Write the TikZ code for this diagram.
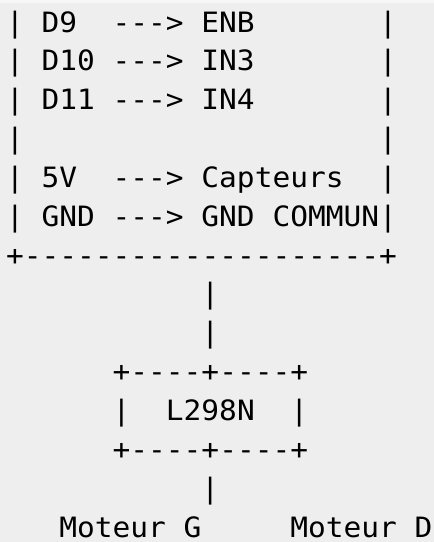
\documentclass[tikz,border=0pt]{standalone}
\usepackage{fontspec}
\setmonofont{DejaVu Sans Mono}[FakeStretch=1.054]
\definecolor{bgc}{HTML}{EEEEEE}
\definecolor{topc}{HTML}{F6F6F6}
\begin{document}
\begin{tikzpicture}[x=17.76pt,y=-38.85pt,
  txt/.style={anchor=base west,inner sep=0pt,outer sep=0pt,font=\ttfamily\fontsize{28}{28}\selectfont,text=black},
  lastrow/.style={txt,text depth=0pt}]
\fill[bgc] (-6.1pt,32pt) rectangle ++(434pt,-542pt);
\fill[topc] (-6.1pt,32pt) rectangle ++(434pt,-3pt);
\useasboundingbox (-6.1pt,32pt) rectangle ++(434pt,-542pt);
% row 0
\node[txt] (l0) at (0,0) {|};
\node[txt] (d9) at (2,0) {D9};
\node[txt] (a0) at (6,0) {--->};
\node[txt] (enb) at (11,0) {ENB};
\node[txt] (r0) at (21,0) {|};
% row 1
\node[txt] (l1) at (0,1) {|};
\node[txt] (d10) at (2,1) {D10};
\node[txt] (a1) at (6,1) {--->};
\node[txt] (in3) at (11,1) {IN3};
\node[txt] (r1) at (21,1) {|};
% row 2
\node[txt] (l2) at (0,2) {|};
\node[txt] (d11) at (2,2) {D11};
\node[txt] (a2) at (6,2) {--->};
\node[txt] (in4) at (11,2) {IN4};
\node[txt] (r2) at (21,2) {|};
% row 3
\node[txt] (l3) at (0,3) {|};
\node[txt] (r3) at (21,3) {|};
% row 4
\node[txt] (l4) at (0,4) {|};
\node[txt] (v5) at (2,4) {5V};
\node[txt] (a4) at (6,4) {--->};
\node[txt] (capt) at (11,4) {Capteurs};
\node[txt] (r4) at (21,4) {|};
% row 5
\node[txt] (l5) at (0,5) {|};
\node[txt] (gnd) at (2,5) {GND};
\node[txt] (a5) at (6,5) {--->};
\node[txt] (gndc) at (11,5) {GND};
\node[txt] (commun) at (15,5) {COMMUN};
\node[txt] (r5) at (21,5) {|};
% row 6
\node[txt] (bottom) at (0,6) {+--------------------+};
% rows 7-8
\node[txt] (v7) at (11,7) {|};
\node[txt] (v8) at (11,8) {|};
% L298N box
\node[txt] (ltop) at (6,9) {+----+----+};
\node[txt] (ll) at (6,10) {|};
\node[txt] (l298) at (9,10) {L298N};
\node[txt] (lr) at (16,10) {|};
\node[txt] (lbot) at (6,11) {+----+----+};
\node[txt] (v12) at (11,12) {|};
% motors
\node[lastrow] (mg) at (3,13) {Moteur};
\node[lastrow] (g) at (10,13) {G};
\node[lastrow] (md) at (16,13) {Moteur};
\node[lastrow] (d) at (23,13) {D};
\end{tikzpicture}
\end{document}
